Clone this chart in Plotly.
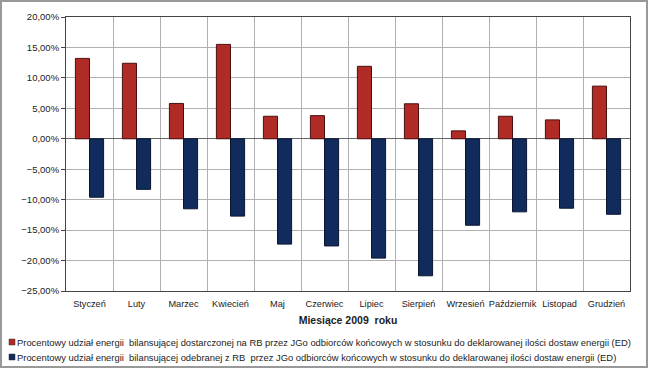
import plotly.graph_objects as go

months = ["Styczeń", "Luty", "Marzec", "Kwiecień", "Maj", "Czerwiec", "Lipiec",
          "Sierpień", "Wrzesień", "Październik", "Listopad", "Grudzień"]
delivered = [13.2, 12.4, 5.8, 15.5, 3.7, 3.8, 11.9, 5.75, 1.3, 3.7, 3.1, 8.65]
received = [-9.6, -8.3, -11.5, -12.7, -17.3, -17.6, -19.6, -22.5, -14.2, -12.0, -11.4, -12.4]
name_del = "Procentowy udział energii  bilansującej dostarczonej na RB przez JGo odbiorców końcowych w stosunku do deklarowanej ilości dostaw energii (ED)"
name_rec = "Procentowy udział energii  bilansującej odebranej z RB  przez JGo odbiorców końcowych w stosunku do deklarowanej ilości dostaw energii (ED)"
col_del, col_rec = "#B02A26", "#112C5C"

FONT = "Liberation Sans, Arial, sans-serif"

fig = go.Figure()
fig.add_trace(go.Bar(x=months, y=delivered, name=name_del,
                     marker=dict(color=col_del, line=dict(color="#4a1010", width=1))))
fig.add_trace(go.Bar(x=months, y=received, name=name_rec,
                     marker=dict(color=col_rec, line=dict(color="#0a1530", width=1))))

L, R, T, B = 66, 630, 17, 291
W, H = 650, 370
pw, ph = R - L, B - T

def px(x):
    return (x - L) / pw

def py(y):
    return (B - y) / ph

annotations = []
shapes = [dict(type="rect", xref="paper", yref="paper",
               x0=px(1), x1=px(647), y0=py(367), y1=py(1),
               line=dict(color="#999", width=2), fillcolor="rgba(0,0,0,0)", layer="below")]
for name, col, yc in [(name_del, col_del, 342), (name_rec, col_rec, 357)]:
    shapes.append(dict(type="rect", xref="paper", yref="paper",
                       x0=px(9), x1=px(15), y0=py(yc + 3), y1=py(yc - 3),
                       fillcolor=col, line=dict(color="#333", width=0.5)))
    annotations.append(dict(text=name, xref="paper", yref="paper", x=px(15), y=py(yc),
                            xanchor="left", yanchor="middle", showarrow=False,
                            font=dict(size=9.4, family=FONT, color="#222")))

fig.update_layout(
    width=W, height=H,
    margin=dict(l=L, r=W - R, t=T, b=H - B),
    paper_bgcolor="white", plot_bgcolor="white",
    font=dict(family=FONT, size=9.5, color="#222"),
    separators=", ",
    barmode="group", bargap=0.4, bargroupgap=0,
    showlegend=False,
    xaxis=dict(type="category", tickson="boundaries", showgrid=True, gridcolor="#b0b0b0",
               gridwidth=1, ticks="", showline=True, linecolor="#444", mirror=True,
               tickangle=0, ticklabelstandoff=4,
               title=dict(text="<b>Miesiące 2009  roku</b>", font=dict(size=10.5), standoff=8),
               tickfont=dict(size=9.2)),
    yaxis=dict(range=[-25, 20], dtick=5, tickformat=".2f", ticksuffix="%",
               showgrid=True, gridcolor="#b0b0b0", showline=True, linecolor="#444", mirror=True,
               ticks="outside", ticklen=4, tickcolor="#444",
               zeroline=True, zerolinecolor="#666", zerolinewidth=1, tickfont=dict(size=9.5)),
    shapes=shapes,
    annotations=annotations,
)
fig.write_html("out.html", config={"displayModeBar": False},
               post_script="document.body.style.margin='0';document.body.style.overflow='hidden';")
